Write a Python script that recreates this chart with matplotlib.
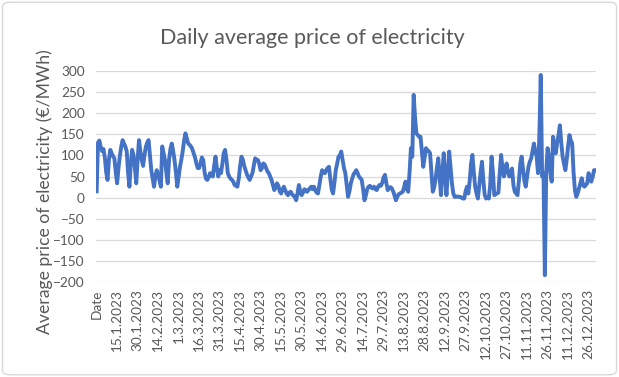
import matplotlib.pyplot as plt
import numpy as np
from matplotlib.patches import FancyBboxPatch

# daily average price (€/MWh), first point sits on the "Date" header category
header_value = [15]
jan = [130, 135, 120, 110, 115, 95, 60, 42, 90, 113, 105, 98, 93, 60, 34, 70,
       99, 120, 136, 128, 121, 110, 60, 26, 80, 113, 100, 70, 34, 90, 136]
feb = [110, 89, 75, 100, 120, 130, 136, 100, 65, 45, 26, 50, 65, 55, 40, 26,
       121, 105, 89, 60, 34, 90, 115, 128, 110, 89, 60, 26]
mar = [50, 73, 90, 110, 135, 152, 140, 128, 125, 121, 115, 105, 95, 81, 70,
       70, 81, 95, 89, 60, 45, 42, 48, 58, 55, 50, 75, 97, 70, 50, 65]
apr = [58, 80, 105, 113, 90, 58, 50, 45, 42, 38, 30, 28, 26, 45, 75, 97, 90,
       75, 65, 55, 48, 42, 50, 58, 75, 93, 90, 89, 80, 65]
may = [70, 81, 78, 70, 62, 58, 50, 42, 30, 18, 25, 34, 28, 15, 10, 20, 26, 18,
       10, 6, 12, 14, 8, 5, 2, -6, 10, 30, 15, 6, 12]
jun = [20, 18, 14, 18, 22, 26, 20, 26, 18, 12, 10, 30, 50, 65, 60, 58, 65, 70,
       73, 45, 20, 10, 35, 65, 80, 97, 100, 109, 90, 70]
jul = [58, 30, 2, 15, 34, 45, 55, 60, 65, 58, 50, 46, 42, 20, -6, 5, 20, 26,
       28, 24, 22, 26, 20, 18, 26, 30, 28, 35, 48, 54, 35]
aug = [18, 22, 25, 22, 15, 5, -6, 2, 8, 10, 12, 14, 25, 38, 20, 14, 60, 117,
       97, 243, 190, 152, 148, 144, 144, 110, 73, 95, 117, 112, 110]
sep = [105, 60, 14, 25, 42, 70, 93, 50, 6, 60, 105, 50, 6, 60, 109, 70, 34,
       10, 2, 2, 3, 2, 2, 0, -2, -2, 15, 26, 10, 40]
oct_ = [80, 101, 60, 26, 10, -2, 30, 60, 85, 40, 6, -2, 2, -2, 30, 97, 60, 6,
        8, 10, 12, 60, 101, 70, 50, 65, 81, 60, 50, 60, 69]
nov = [30, 14, 10, 6, 40, 80, 97, 69, 40, 26, 50, 73, 85, 93, 110, 128, 110,
       97, 58, 150, 290, 50, 58, -183, 60, 117, 97, 60, 38, 144]
dec = [120, 105, 130, 148, 171, 130, 97, 80, 65, 90, 121, 148, 135, 128, 60,
       18, 2, 10, 22, 35, 46, 30, 26, 30, 34, 58, 45, 38, 50, 65, 65]

prices = header_value + jan + feb + mar + apr + may + jun + jul + aug + sep + oct_ + nov + dec

tick_labels = [
    "Date", "15.1.2023", "30.1.2023", "14.2.2023", "1.3.2023", "16.3.2023",
    "31.3.2023", "15.4.2023", "30.4.2023", "15.5.2023", "30.5.2023",
    "14.6.2023", "29.6.2023", "14.7.2023", "29.7.2023", "13.8.2023",
    "28.8.2023", "12.9.2023", "27.9.2023", "12.10.2023", "27.10.2023",
    "11.11.2023", "26.11.2023", "11.12.2023", "26.12.2023",
]
tick_step = 15

TEXT_GRAY = "#595959"

plt.rcParams["font.family"] = ["Lato", "DejaVu Sans"]

fig = plt.figure(figsize=(6.19, 3.77), dpi=100)
fig.patches.append(
    FancyBboxPatch(
        (0.004, 0.006), 0.992, 0.988,
        boxstyle="round,pad=0,rounding_size=0.012",
        transform=fig.transFigure,
        facecolor="white",
        edgecolor="#d9d9d9",
        linewidth=1.0,
        zorder=-1,
    )
)

ax = fig.add_axes([0.155, 0.251, 0.808, 0.5615])

x = np.arange(len(prices))
ax.plot(x, prices, color="#4472C4", linewidth=2.8, solid_joinstyle="round")

ax.set_ylim(-200, 300)
ax.set_yticks(np.arange(-200, 301, 50))
ax.set_xlim(-0.5, len(prices) - 0.5)
ax.set_xticks(np.arange(len(tick_labels)) * tick_step)
ax.set_xticklabels(tick_labels, rotation=90)

ax.grid(axis="y", color="#d9d9d9", linewidth=0.9)
ax.set_axisbelow(True)
for side in ["top", "right", "left", "bottom"]:
    ax.spines[side].set_visible(False)

ax.tick_params(axis="both", length=0, colors=TEXT_GRAY, labelsize=9.8)
ax.tick_params(axis="x", pad=5)
ax.tick_params(axis="y", pad=8)

ax.set_ylabel(
    "Average price of electricity (€/MWh)",
    color=TEXT_GRAY,
    fontsize=12.7,
)
ax.yaxis.set_label_coords(-0.085, 0.43)

fig.text(
    0.505, 0.9,
    "Daily average price of electricity",
    ha="center",
    va="center",
    color=TEXT_GRAY,
    fontsize=15.5,
)

fig.savefig("out.png", dpi=100)
